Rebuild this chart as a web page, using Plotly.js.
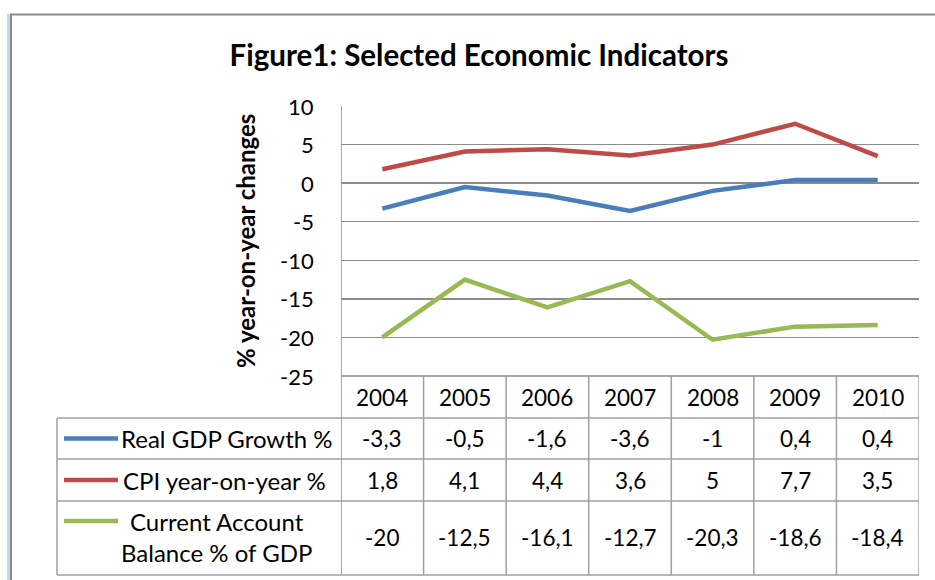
<!DOCTYPE html>
<html>
<head>
<meta charset="utf-8">
<script src="https://cdn.plot.ly/plotly-3.0.1.min.js"></script>
<style>
html,body{margin:0;padding:0;background:#fff;}
#chart{width:935px;height:580px;}
</style>
</head>
<body>
<div id="chart"></div>
<script>
const years = ['2004','2005','2006','2007','2008','2009','2010'];
const seriesNames = ['Real GDP Growth %', 'CPI year-on-year %', 'Current Account<br>Balance % of GDP'];
const gdpGrowth = [-3.3, -0.5, -1.6, -3.6, -1, 0.4, 0.4];
const cpiYoY = [1.8, 4.1, 4.4, 3.6, 5, 7.7, 3.5];
const currentAccount = [-20, -12.5, -16.1, -12.7, -20.3, -18.6, -18.4];
const yTicks = [10, 5, 0, -5, -10, -15, -20, -25];
const colors = ['#4A7EBB', '#BE4B48', '#98B954'];

const W = 935, H = 580;
const L = 341, R = 919, T = 106, B = 376;
const px = p => (p - L) / (R - L);
const py = p => (B - p) / (B - T);
const fontFam = 'Lato, "Open Sans", sans-serif';
const grid = '#8c8c8c';
const tbl = '#a0a0a0';
const numSize = 22.5, tickSize = 22, txtSize = 24;

const allSeries = [gdpGrowth, cpiYoY, currentAccount];
const traces = allSeries.map((vals, i) => ({
  type: 'scatter', mode: 'lines', x: years, y: vals,
  name: seriesNames[i], line: {color: colors[i], width: 4.5},
  showlegend: false, hoverinfo: 'skip'
}));

const fmt = v => String(v).replace('.', ',');

const rowTops = [376, 418, 459, 501, 575];
const tableLeft = 57;
const shapes = [];
const annotations = [];

for (let k = 1; k < rowTops.length; k++) {
  shapes.push({type:'line', xref:'paper', yref:'paper', x0:px(tableLeft), x1:px(R), y0:py(rowTops[k]), y1:py(rowTops[k]), line:{color:tbl, width:1.5}});
}
shapes.push({type:'line', xref:'paper', yref:'paper', x0:px(tableLeft), x1:px(tableLeft), y0:py(418), y1:py(575), line:{color:tbl, width:1.5}});
for (let c = 0; c <= years.length; c++) {
  const xv = c - 0.5;
  shapes.push({type:'line', xref:'x', yref:'paper', x0:xv, x1:xv, y0:py(c === 0 ? T : 376), y1:py(575), line:{color:c === 0 ? grid : tbl, width:1.5}});
}
shapes.push({type:'line', xref:'paper', yref:'paper', x0:0, x1:1, y0:0, y1:0, line:{color:grid, width:1.5}});

years.forEach((y, j) => {
  annotations.push({xref:'x', yref:'paper', x:j, y:py(397), text:y, showarrow:false,
    font:{family:fontFam, size:numSize, color:'#000'}, xanchor:'center', yanchor:'middle'});
});
const rowMid = [438.5, 480, 537];
const keyYs = [438.5, 480, 521];
const labelX = [227, 224, 216];
allSeries.forEach((vals, i) => {
  vals.forEach((v, j) => {
    annotations.push({xref:'x', yref:'paper', x:j, y:py(rowMid[i]), text:fmt(v), showarrow:false,
      font:{family:fontFam, size:numSize, color:'#000'}, xanchor:'center', yanchor:'middle'});
  });
  shapes.push({type:'line', xref:'paper', yref:'paper', x0:px(64), x1:px(118), y0:py(keyYs[i]), y1:py(keyYs[i]), line:{color:colors[i], width:4.5}});
  annotations.push({xref:'paper', yref:'paper', x:px(labelX[i]), y:py(rowMid[i]), text:seriesNames[i], showarrow:false,
    font:{family:fontFam, size:txtSize, color:'#000'}, xanchor:'center', yanchor:'middle', align:'center'});
});

yTicks.forEach(t => {
  annotations.push({xref:'paper', yref:'y', x:px(316), y:t, text:String(t), showarrow:false,
    font:{family:fontFam, size:tickSize, color:'#000'}, xanchor:'right', yanchor:'middle'});
});

annotations.push({xref:'paper', yref:'paper', x:px(245), y:py(241), text:'% year-on-year changes', textangle:-90, showarrow:false,
  font:{family:fontFam, size:txtSize, color:'#000', weight:'bold'}, xanchor:'center', yanchor:'middle'});

shapes.push({type:'rect', xref:'paper', yref:'paper', x0:px(7), x1:px(10), y0:py(14), y1:py(580), fillcolor:'#c6d9f1', line:{width:0}});
shapes.push({type:'line', xref:'paper', yref:'paper', x0:px(11), x1:px(11), y0:py(14), y1:py(580), line:{color:'#8a8a8a', width:2}});
shapes.push({type:'line', xref:'paper', yref:'paper', x0:px(10), x1:px(935), y0:py(14.5), y1:py(14.5), line:{color:'#8a8a8a', width:2}});

const layout = {
  width: W, height: H,
  margin: {l: L, r: W - R, t: T, b: H - B, pad: 0},
  paper_bgcolor: '#fff', plot_bgcolor: '#fff',
  title: {text: 'Figure1: Selected Economic Indicators', font:{family:fontFam, size:29.5, color:'#000', weight:'bold'},
    x: 479/W, xanchor:'center', xref:'container', y: 1 - 56/H, yanchor:'middle', yref:'container'},
  xaxis: {type:'category', range:[-0.5, 6.5], showticklabels:false, showgrid:false, zeroline:false, showline:false, ticks:''},
  yaxis: {range:[-25, 10], dtick:5, tick0:0, showticklabels:false, showgrid:true, gridcolor:grid, gridwidth:1.5,
    zeroline:true, zerolinecolor:grid, zerolinewidth:1.5, showline:false, ticks:''},
  shapes: shapes,
  annotations: annotations
};

Plotly.newPlot('chart', traces, layout, {staticPlot:true, displayModeBar:false});
</script>
</body>
</html>
